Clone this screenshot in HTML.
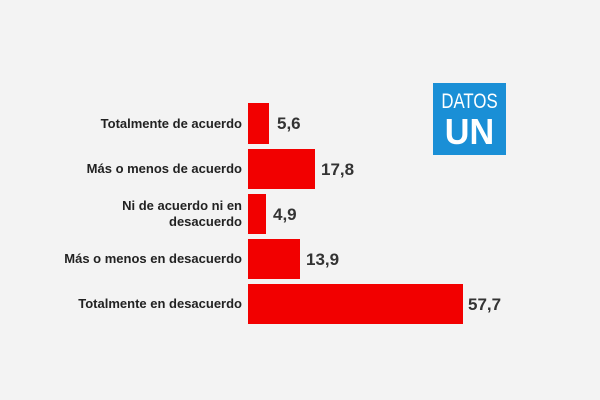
<!DOCTYPE html>
<html><head><style>
body{margin:0;width:600px;height:400px;background:#f3f3f3;position:relative;overflow:hidden;font-family:"Liberation Sans",sans-serif}
.b{position:absolute;left:248px;background:#f20000;height:40px}
.l{position:absolute;right:358px;font-weight:bold;font-size:13px;color:#222;text-align:right;line-height:16px}
.v{position:absolute;font-weight:bold;font-size:17px;color:#333}
</style></head><body>
<div class="b" style="top:103px;width:21px;height:41px"></div>
<div class="b" style="top:149px;width:67px"></div>
<div class="b" style="top:194px;width:18px"></div>
<div class="b" style="top:239px;width:52px"></div>
<div class="b" style="top:284px;width:215px"></div>
<div class="l" style="top:116px">Totalmente de acuerdo</div>
<div class="l" style="top:161px">Más o menos de acuerdo</div>
<div class="l" style="top:198px">Ni de acuerdo ni en<br>desacuerdo</div>
<div class="l" style="top:251px">Más o menos en desacuerdo</div>
<div class="l" style="top:296px">Totalmente en desacuerdo</div>
<div class="v" style="left:277px;top:114px">5,6</div>
<div class="v" style="left:321px;top:160px">17,8</div>
<div class="v" style="left:273px;top:205px">4,9</div>
<div class="v" style="left:306px;top:250px">13,9</div>
<div class="v" style="left:468px;top:295px">57,7</div>
<div style="position:absolute;left:433px;top:83px;width:73px;height:72px;background:#1a8fd6;color:#fff;text-align:center">
<div style="font-size:21px;margin-top:7px;transform:scaleX(0.8)">DATOS</div>
<div style="font-size:36px;font-weight:bold;line-height:36px;transform:scaleX(0.95)">UN</div>
</div>
</body></html>
